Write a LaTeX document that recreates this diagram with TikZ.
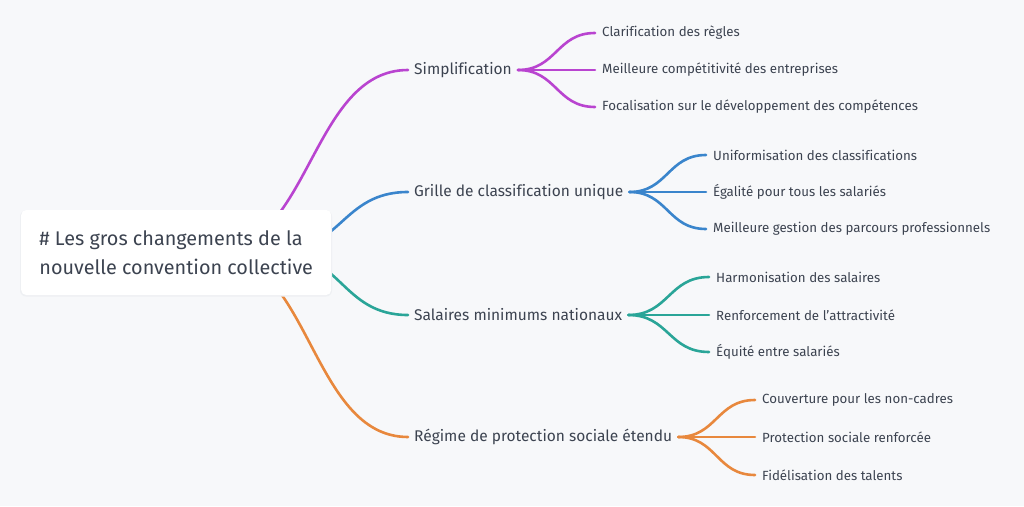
\documentclass[tikz,border=0pt]{standalone}
\usepackage{fontspec}
\setmainfont[Ligatures={NoCommon}]{Fira Sans}
\usetikzlibrary{calc}
\definecolor{bgc}{HTML}{F7F8FA}
\definecolor{txt}{HTML}{3C4350}
\definecolor{cpur}{HTML}{B944D0}
\definecolor{cblu}{HTML}{3A85CC}
\definecolor{ctea}{HTML}{2AA598}
\definecolor{cora}{HTML}{E8883D}
\definecolor{shd}{HTML}{EEF0F3}
\tikzset{
  lvone/.style={anchor=west,inner xsep=6pt,inner ysep=0pt,text=txt,font=\fontsize{15.5}{18}\selectfont},
  lvtwo/.style={anchor=west,inner xsep=7pt,inner ysep=0pt,text=txt,font=\fontsize{13.3}{16}\selectfont},
  lk/.style={line width=2.6pt,line cap=round},
  link/.style={
    to path={let \p1=(\tikztostart), \p2=(\tikztotarget) in
      .. controls ({(\x1+\x2)/2},\y1) and ({(\x1+\x2)/2},\y2) .. (\tikztotarget)}},
  rootbox/.style={anchor=west,fill=white,rounded corners=5pt,minimum width=310pt,minimum height=85pt,
    inner xsep=17pt,align=left,text=txt,
    font=\fontsize{19.8}{28.5}\selectfont}
}
\begin{document}
\begin{tikzpicture}[x=1pt,y=-1pt]
\fill[bgc] (0,0) rectangle (1024,506);
\useasboundingbox (0,0) rectangle (1024,506);
% level 1
\node[lvone] (s) at (408,70) {Simplification};
\node[lvone] (g) at (408,192) {Grille de classification unique};
\node[lvone] (m) at (408,315) {Salaires minimums nationaux};
\node[lvone] (r) at (408,437) {Régime de protection sociale étendu};
% level 2
\node[lvtwo] (s1) at (595,33) {Clarification des règles};
\node[lvtwo] (s2) at (595,70) {Meilleure compétitivité des entreprises};
\node[lvtwo] (s3) at (595,107) {Focalisation sur le développement des compétences};
\node[lvtwo] (g1) at (706,155) {Uniformisation des classifications};
\node[lvtwo] (g2) at (706,192) {Égalité pour tous les salariés};
\node[lvtwo] (g3) at (706,229) {Meilleure gestion des parcours professionnels};
\node[lvtwo] (m1) at (709,277) {Harmonisation des salaires};
\node[lvtwo] (m2) at (709,315) {Renforcement de l'attractivité};
\node[lvtwo] (m3) at (709,352) {Équité entre salariés};
\node[lvtwo] (r1) at (755,400) {Couverture pour les non-cadres};
\node[lvtwo] (r2) at (755,437) {Protection sociale renforcée};
\node[lvtwo] (r3) at (755,475) {Fidélisation des talents};
% child links
\foreach \p/\c in {s/s1,s/s2,s/s3} \draw[lk,cpur] (\p.east) to[link] (\c.west);
\foreach \p/\c in {g/g1,g/g2,g/g3} \draw[lk,cblu] (\p.east) to[link] (\c.west);
\foreach \p/\c in {m/m1,m/m2,m/m3} \draw[lk,ctea] (\p.east) to[link] (\c.west);
\foreach \p/\c in {r/r1,r/r2,r/r3} \draw[lk,cora] (\p.east) to[link] (\c.west);
% root links (sources hidden under the root box)
\coordinate (ro) at (213,252);
\coordinate (ri) at (275,252);
\draw[lk,cpur] (ro) to[link] (s.west);
\draw[lk,cblu] (ri) to[link] (g.west);
\draw[lk,ctea] (ri) to[link] (m.west);
\draw[lk,cora] (ro) to[link] (r.west);
% root
\fill[shd,rounded corners=6pt] (20,210.5) rectangle (332,296.5);
\node[rootbox] (root) at (21,252.5) {\# Les gros changements de la\\nouvelle convention collective};
\end{tikzpicture}
\end{document}
